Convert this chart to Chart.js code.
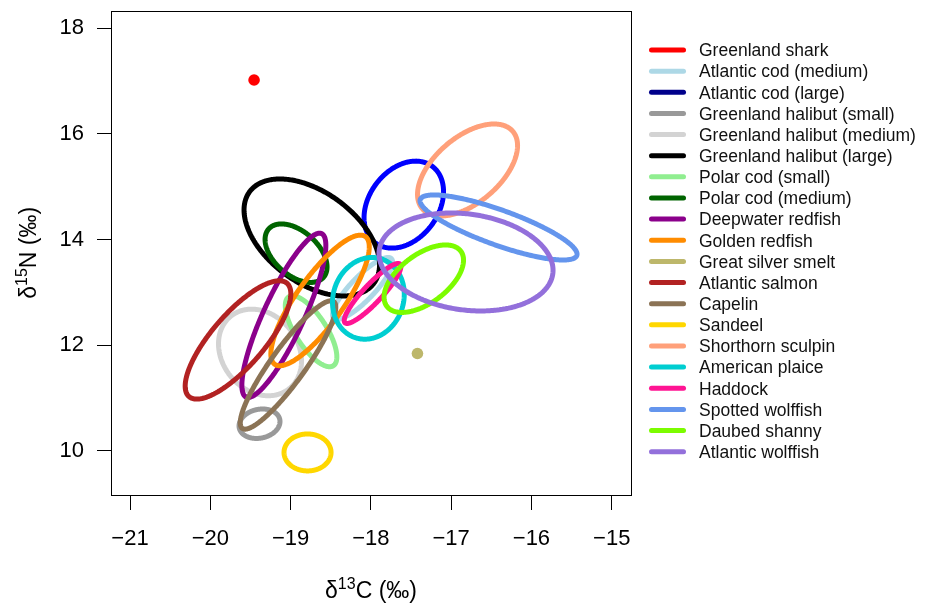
<!DOCTYPE html>
<html><head><meta charset="utf-8">
<script src="https://cdn.jsdelivr.net/npm/chart.js@4.4.1/dist/chart.umd.min.js"></script>
<style>html,body{margin:0;padding:0;background:#fff;} canvas{display:block;}</style>
</head><body>
<canvas id="c" width="930" height="605"></canvas>
<script>
// ---- data ----
const species = ["Greenland shark","Atlantic cod (medium)","Atlantic cod (large)","Greenland halibut (small)","Greenland halibut (medium)","Greenland halibut (large)","Polar cod (small)","Polar cod (medium)","Deepwater redfish","Golden redfish","Great silver smelt","Atlantic salmon","Capelin","Sandeel","Shorthorn sculpin","American plaice","Haddock","Spotted wolffish","Daubed shanny","Atlantic wolffish"];
const legendColors = ["#FF0000","#ADD8E6","#00008B","#999999","#D3D3D3","#000000","#90EE90","#006400","#8B008B","#FF8C00","#BDB76B","#B22222","#8B7355","#FFD700","#FFA07A","#00CED1","#FF1493","#6495ED","#7CFC00","#9370DB"];
const markColors   = ["#FF0000","#ADD8E6","#0000FF","#999999","#D3D3D3","#000000","#90EE90","#006400","#8B008B","#FF8C00","#BDB76B","#B22222","#8B7355","#FFD700","#FFA07A","#00CED1","#FF1493","#6495ED","#7CFC00","#9370DB"];
// ellipse centre (d13C, d15N), half-extent in each axis, and correlation (tilt); null spread = single point
const centerC = [-19.455,-18.104,-17.59,-19.387,-19.381,-18.736,-18.745,-18.932,-19.084,-18.633,-17.42,-19.655,-19.032,-18.789,-16.796,-18.031,-17.979,-16.41,-17.341,-16.815];
const centerN = [17.02,13.072,14.66,10.51,11.86,14.038,12.261,13.74,12.563,12.845,11.84,12.097,11.623,9.966,15.316,12.885,12.977,14.227,13.257,13.574];
const spreadC = [null,0.374,0.495,0.255,0.517,0.844,0.321,0.386,0.523,0.613,null,0.658,0.595,0.293,0.623,0.447,0.353,0.978,0.495,1.084];
const spreadN = [null,0.587,0.824,0.279,0.82,1.108,0.672,0.554,1.556,1.237,null,1.121,1.216,0.35,0.871,0.774,0.568,0.616,0.639,0.928];
const tilt    = [0,0.85,0.3,0.15,-0.2,-0.47,-0.72,-0.47,0.85,0.82,0,0.78,0.9,0,0.53,0.1,0.9,-0.82,0.55,-0.17];
const xTicks = [-21,-20,-19,-18,-17,-16,-15];
const yTicks = [10,12,14,16,18];
const xRange = [-21.237,-14.76];
const yRange = [9.16,18.333];
const STEPS = 160;

const FONT = "'Liberation Sans', Arial, Helvetica, sans-serif";

function groupData(i){
  if (spreadC[i] === null) return [{x:centerC[i], y:centerN[i]}];
  const r = tilt[i], q = Math.sqrt(1 - r*r), pts = [];
  for (let k = 0; k <= STEPS; k++){
    const t = 2*Math.PI*k/STEPS;
    pts.push({x: centerC[i] + spreadC[i]*Math.cos(t),
              y: centerN[i] + spreadN[i]*(r*Math.cos(t) + q*Math.sin(t))});
  }
  return pts;
}

const N = species.length;
const datasets = species.map((name,i)=>{
  const isEll = spreadC[i] !== null;
  return {
    label: name,
    data: groupData(i),
    showLine: isEll,
    borderColor: markColors[i],
    backgroundColor: markColors[i],
    borderWidth: isEll ? 5 : 0,
    borderJoinStyle: 'round',
    borderCapStyle: 'round',
    pointRadius: isEll ? 0 : 5.8,
    pointHoverRadius: isEll ? 0 : 5.8,
    pointBorderWidth: 0,
    pointBackgroundColor: markColors[i],
    tension: 0.01,
    fill: false,
    order: N - i
  };
});

const fmt = v => String(v).replace('-', '\u2212');

function drawSupText(ctx, parts, mainSize, supSize){
  let w = 0;
  parts.forEach(p=>{
    ctx.font = (p[1]?supSize:mainSize) + "px " + FONT;
    w += ctx.measureText(p[0]).width;
  });
  let x = -w/2;
  parts.forEach(p=>{
    ctx.font = (p[1]?supSize:mainSize) + "px " + FONT;
    ctx.fillText(p[0], x, p[1] ? -mainSize*0.40 : 0);
    x += ctx.measureText(p[0]).width;
  });
}

const decor = {
  id: 'decor',
  afterDraw(chart){
    const ctx = chart.ctx, a = chart.chartArea;
    ctx.save();
    ctx.strokeStyle = '#000'; ctx.lineWidth = 1;
    ctx.strokeRect(Math.round(a.left)+0.5, Math.round(a.top)+0.5, Math.round(a.right)-Math.round(a.left), Math.round(a.bottom)-Math.round(a.top));
    ctx.fillStyle = '#000'; ctx.textBaseline = 'alphabetic'; ctx.textAlign = 'left';
    ctx.save();
    ctx.translate((a.left+a.right)/2, 598);
    drawSupText(ctx, [["\u03B4",false],["13",true],["C (\u2030)",false]], 23, 16);
    ctx.restore();
    ctx.save();
    ctx.translate(36, (a.top+a.bottom)/2);
    ctx.rotate(-Math.PI/2);
    drawSupText(ctx, [["\u03B4",false],["15",true],["N (\u2030)",false]], 23, 16);
    ctx.restore();
    ctx.font = "17.5px " + FONT;
    ctx.lineCap = 'round'; ctx.lineWidth = 5;
    species.forEach((name,i)=>{
      const y = 50 + i*21.14;
      ctx.strokeStyle = legendColors[i];
      ctx.beginPath(); ctx.moveTo(651.5, y); ctx.lineTo(683.5, y); ctx.stroke();
      ctx.fillStyle = '#111';
      ctx.fillText(name, 699, y + 6.3);
    });
    ctx.restore();
  }
};

new Chart(document.getElementById('c'), {
  type: 'scatter',
  data: { datasets },
  options: {
    responsive: false, animation: false, devicePixelRatio: 1,
    layout: { padding: { left: 0, right: 299, top: 10.7, bottom: 0 } },
    plugins: { legend: { display: false }, tooltip: { enabled: false } },
    events: [],
    scales: {
      x: {
        type: 'linear', min: xRange[0], max: xRange[1],
        afterBuildTicks: s => { s.ticks = xTicks.map(v => ({value: v})); },
        afterFit: s => { s.height = 110; s.paddingLeft = 0; s.paddingRight = 0; },
        grid: { drawOnChartArea: false, drawTicks: true, tickLength: 15, color: '#000', lineWidth: 1 },
        border: { display: false },
        ticks: { font: { family: FONT, size: 22 }, color: '#000', padding: 16, maxRotation: 0, autoSkip: false, callback: v => fmt(v) }
      },
      y: {
        type: 'linear', min: yRange[0], max: yRange[1],
        afterBuildTicks: s => { s.ticks = yTicks.map(v => ({value: v})); },
        afterFit: s => { s.width = 111; s.paddingTop = 0; s.paddingBottom = 0; },
        grid: { drawOnChartArea: false, drawTicks: true, tickLength: 14, color: '#000', lineWidth: 1 },
        border: { display: false },
        ticks: { font: { family: FONT, size: 22 }, color: '#000', padding: 13, autoSkip: false, callback: v => fmt(v) }
      }
    }
  },
  plugins: [decor]
});
</script>
</body></html>
